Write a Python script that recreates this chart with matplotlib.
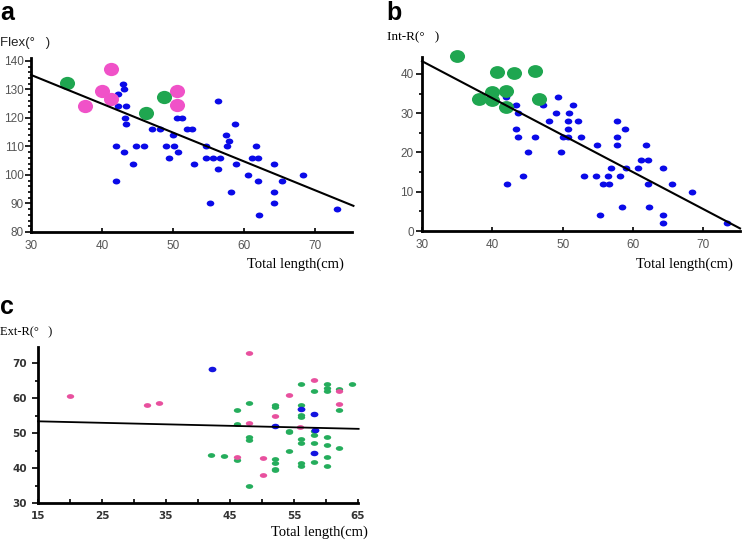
import numpy as np
import matplotlib
matplotlib.use("Agg")
import matplotlib.pyplot as plt
from matplotlib.path import Path
from matplotlib.ticker import MultipleLocator

# ---------------- data ----------------
# Panel a: Flex
a_blue_x = [41.9, 42.0, 42.3, 43.0, 43.1, 43.4, 43.3, 43.4, 43.1, 42.2, 44.3, 44.8, 45.9, 47.0, 48.1,
            49.0, 49.5, 50.0, 50.2, 50.7, 50.6, 51.3, 52.0, 52.6, 52.9, 54.7, 54.6, 55.6, 55.2, 56.3,
            56.6, 56.4, 57.5, 57.9, 57.6, 58.7, 58.8, 58.2, 60.5, 61.1, 61.7, 62.0, 61.9, 62.1, 64.2,
            64.2, 64.2, 65.4, 68.3, 73.1]
a_blue_y = [98, 110, 128.5, 132, 130, 124, 120, 118, 108, 124, 104, 110, 110, 116, 116,
            110, 106, 114, 110, 108, 120, 120, 116, 116, 104, 110, 106, 106, 90, 126,
            106, 102, 114, 112, 110, 118, 104, 94, 100, 106, 110, 106, 98, 86, 104,
            94, 90, 98, 100, 88]
a_pink_x = [41.2, 37.6, 40.0, 41.3, 50.6, 50.6]
a_pink_y = [137, 124, 129.5, 126.7, 129.5, 124.4]
a_green_x = [35.1, 46.2, 48.7]
a_green_y = [132.2, 121.7, 127.3]
a_fit = (165.4, -1.011)  # intercept, slope

# Panel b: Int-R
b_blue_x = [42.1, 42.0, 43.4, 43.6, 43.3, 43.6, 44.4, 45.0, 46.0, 47.2, 48.1, 49.0, 49.3, 49.7, 50.1,
            50.7, 50.8, 50.7, 50.9, 51.4, 52.2, 52.6, 53.0, 54.9, 54.8, 55.3, 55.7, 56.6, 56.5, 56.8,
            58.1, 58.4, 57.7, 57.7, 57.7, 58.9, 59.0, 60.7, 61.1, 62.1, 61.9, 62.1, 62.3, 64.3, 64.3,
            64.3, 65.5, 68.4, 73.3]
b_blue_y = [12, 34, 32, 30, 26, 24, 14, 20, 24, 32, 28, 30, 34, 20, 24,
            24, 26, 28, 30, 32, 28, 24, 14, 22, 14, 4, 12, 12, 14, 16,
            14, 6, 28, 24, 22, 26, 16, 16, 18, 18, 22, 12, 6, 16, 4,
            2, 12, 10, 2]
b_green_x = [35.0, 40.7, 43.1, 46.1, 38.1, 40.0, 40.0, 41.9, 41.9, 46.6]
b_green_y = [44.5, 40.5, 40.3, 40.8, 33.6, 35.3, 33.3, 35.6, 31.6, 33.6]
b_fit = (71.5, -0.942)

# Panel c: Ext-R
c_pink_x = [20.0, 32.0, 33.9, 48.0, 48.0, 46.1, 50.2, 50.2, 52.0, 54.2, 56.0, 58.1, 62.1, 62.1]
c_pink_y = [60.5, 57.9, 58.6, 72.9, 52.8, 43.2, 42.9, 37.9, 54.8, 61.0, 51.6, 65.3, 62.1, 58.2]
c_blue_x = [42.2, 52.1, 56.1, 58.1, 58.3, 58.1]
c_blue_y = [68.2, 51.9, 56.9, 55.5, 50.9, 44.4]
c_green_x = [42.1, 44.0, 46.1, 46.1, 46.1, 48.0, 48.0, 48.0, 48.0, 52.0, 52.0, 52.0, 52.0, 52.0,
             52.0, 54.2, 54.2, 54.2, 56.1, 56.1, 56.1, 56.1, 56.1, 56.1, 56.1, 56.1, 58.1, 58.1,
             58.1, 58.1, 58.1, 60.2, 60.2, 60.2, 60.2, 60.2, 60.2, 60.2, 62.1, 62.1, 62.1, 64.1]
c_green_y = [43.7, 43.4, 56.7, 52.6, 42.2, 58.7, 48.9, 48.0, 34.8, 58.0, 57.5, 42.5, 41.5, 39.7,
             39.3, 50.6, 50.2, 44.8, 64.1, 58.0, 55.2, 54.7, 48.2, 47.2, 41.5, 40.5, 61.9, 50.6,
             49.4, 47.2, 41.8, 64.0, 63.0, 61.9, 48.9, 46.5, 43.2, 40.6, 62.7, 56.6, 45.8, 64.1]
c_fit = (54.0, -0.043)

# ---------------- style ----------------
BLUE = "#0a0ae8"
PINK = "#f052c8"
GREEN = "#1fa650"
C_PINK = "#e8509e"
C_GREEN = "#25ad5c"
C_BLUE = "#1414e0"


def ellipse(aspect):
    c = Path.unit_circle()
    v = c.vertices.copy()
    v[:, 1] *= aspect
    return Path(v, c.codes)


fig = plt.figure(figsize=(7.42, 5.40), dpi=100)
W, H = 742.0, 540.0


def axes_px(l, t, r, b):
    return fig.add_axes([l / W, 1 - b / H, (r - l) / W, (b - t) / H])


def style(ax, lw=2.0):
    for s in ("top", "right"):
        ax.spines[s].set_visible(False)
    for s in ("left", "bottom"):
        ax.spines[s].set_linewidth(lw)
    ax.tick_params(axis="both", which="both", width=1.2)
    ax.patch.set_alpha(0)


serif = "Liberation Serif"

# ---------- panel a ----------
axa = axes_px(31, 58, 352, 232)
style(axa)
axa.scatter(a_blue_x, a_blue_y, s=30, marker=ellipse(0.78), color=BLUE, linewidths=0, zorder=3, clip_on=False)
axa.scatter(a_pink_x, a_pink_y, s=118, marker=ellipse(0.88), color=PINK, linewidths=0, zorder=4, clip_on=False)
axa.scatter(a_green_x, a_green_y, s=118, marker=ellipse(0.88), color=GREEN, linewidths=0, zorder=4, clip_on=False)
xs = np.array([30, 75.4])
axa.plot(xs, a_fit[0] + a_fit[1] * xs, color="black", lw=1.5, zorder=5, clip_on=False)
axa.set_xlim(30, 75.2)
axa.set_ylim(80, 141)
axa.xaxis.set_major_locator(MultipleLocator(10))
axa.yaxis.set_major_locator(MultipleLocator(10))
axa.yaxis.set_minor_locator(MultipleLocator(2))
axa.tick_params(axis="x", which="major", direction="in", length=3, pad=6, colors="black", labelcolor="#555555")
axa.tick_params(axis="y", which="major", direction="out", length=4, pad=1, colors="black", labelcolor="#555555")
axa.tick_params(axis="y", which="minor", direction="out", length=2)
for lab in axa.get_xticklabels() + axa.get_yticklabels():
    lab.set_fontfamily("Liberation Sans")
    lab.set_fontsize(8.5)

# ---------- panel b ----------
axb = axes_px(422, 57, 740, 231)
style(axb)
axb.scatter(b_blue_x, b_blue_y, s=30, marker=ellipse(0.78), color=BLUE, linewidths=0, zorder=3, clip_on=False)
axb.scatter(b_green_x, b_green_y, s=118, marker=ellipse(0.85), color=GREEN, linewidths=0, zorder=4, clip_on=False)
xs = np.array([30, 75.2])
axb.plot(xs, b_fit[0] + b_fit[1] * xs, color="black", lw=1.5, zorder=5, clip_on=False)
axb.set_xlim(30, 75.2)
axb.set_ylim(0, 44.3)
axb.xaxis.set_major_locator(MultipleLocator(10))
axb.yaxis.set_major_locator(MultipleLocator(10))
axb.yaxis.set_minor_locator(MultipleLocator(5))
axb.tick_params(axis="x", which="major", direction="in", length=3, pad=6, labelcolor="#555555")
axb.tick_params(axis="y", which="major", direction="out", length=4, pad=2, labelcolor="#555555")
axb.tick_params(axis="y", which="minor", direction="out", length=2)
for lab in axb.get_xticklabels() + axb.get_yticklabels():
    lab.set_fontfamily("Liberation Sans")
    lab.set_fontsize(8.5)

# ---------- panel c ----------
axc = axes_px(38, 347, 358, 503)
style(axc)
axc.scatter(c_green_x, c_green_y, s=28, marker=ellipse(0.65), color=C_GREEN, linewidths=0, zorder=3, clip_on=False)
axc.scatter(c_pink_x, c_pink_y, s=28, marker=ellipse(0.65), color=C_PINK, linewidths=0, zorder=4, clip_on=False)
axc.scatter(c_blue_x, c_blue_y, s=32, marker=ellipse(0.7), color=C_BLUE, linewidths=0, zorder=4, clip_on=False)
xs = np.array([15, 65.1])
axc.plot(xs, c_fit[0] + c_fit[1] * xs, color="black", lw=1.3, zorder=5, clip_on=False)
axc.set_xlim(15, 65)
axc.set_ylim(30, 74.6)
axc.set_xticks([15, 25, 35, 45, 55, 65])
axc.xaxis.set_minor_locator(MultipleLocator(5))
axc.yaxis.set_major_locator(MultipleLocator(10))
axc.yaxis.set_minor_locator(MultipleLocator(5))
axc.tick_params(axis="x", which="both", direction="in", length=3, pad=6, labelcolor="#333333")
axc.tick_params(axis="y", which="major", direction="out", length=4, pad=4, labelcolor="#333333")
axc.tick_params(axis="y", which="minor", direction="out", length=2)
for lab in axc.get_xticklabels() + axc.get_yticklabels():
    lab.set_fontfamily("DejaVu Sans")
    lab.set_fontsize(7.5)
    lab.set_fontweight("bold")

# ---------- texts ----------
def ftext(x, y, s, **kw):
    fig.text(x / W, 1 - y / H, s, **kw)

ftext(0, 13, "a", fontsize=18, fontweight="bold", family="Liberation Sans", va="center", ha="left")
ftext(386, 13, "b", fontsize=18, fontweight="bold", family="Liberation Sans", va="center", ha="left")
ftext(0, 307, "c", fontsize=18, fontweight="bold", family="Liberation Sans", va="center", ha="left")

ftext(0, 43, "Flex(°   )", fontsize=9.5, family="Liberation Sans", va="center", ha="left", color="#222222")
ftext(387, 37, "Int-R(°   )", fontsize=9.5, family=serif, va="center", ha="left")
ftext(0, 332, "Ext-R(°   )", fontsize=9, family=serif, va="center", ha="left")

ftext(344, 264, "Total length(cm)", fontsize=10.5, family=serif, va="center", ha="right")
ftext(733, 264, "Total length(cm)", fontsize=10.5, family=serif, va="center", ha="right")
ftext(368, 532, "Total length(cm)", fontsize=10.5, family=serif, va="center", ha="right")

fig.savefig("out.png", dpi=100)
